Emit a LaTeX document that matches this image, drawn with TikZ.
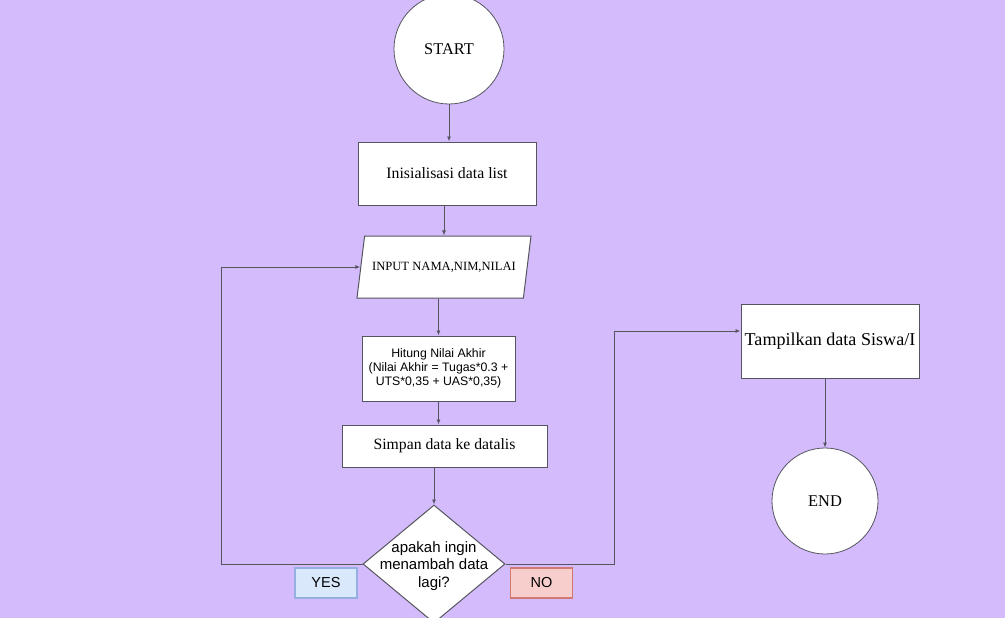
\documentclass[tikz,border=0pt]{standalone}
\usepackage{fontspec}
\setmainfont{Liberation Serif}
\setsansfont{Liberation Sans}
\usepackage{xcolor}
\definecolor{fcbg}{RGB}{212,187,252}
\definecolor{fcline}{RGB}{85,85,95}
\definecolor{fcyesfill}{RGB}{218,232,252}
\definecolor{fcyesline}{RGB}{150,175,225}
\definecolor{fcnofill}{RGB}{248,206,204}
\definecolor{fcnoline}{RGB}{210,120,115}
\usetikzlibrary{arrows.meta, positioning, shapes.geometric}

\tikzset{
  procbox/.style={draw=fcline, fill=white, line width=1pt, inner sep=0pt, align=center},
  termcircle/.style={circle, draw=fcline, fill=white, line width=0.8pt, inner sep=0pt},
  flow/.style={draw=fcline, line width=0.9pt, -{Latex[length=5pt,width=4pt]}},
  answer/.style={line width=1.3pt, inner sep=0pt, minimum width=62pt, minimum height=30pt,
    font=\sffamily\fontsize{14.5}{16}\selectfont}
}

\begin{document}
\begin{tikzpicture}[x=1pt, y=-1pt]
  \useasboundingbox[fill=fcbg] (0,0) rectangle (1005,618);
  \clip (0,0) rectangle (1005,618);

  % Terminals
  \node[termcircle, minimum size=110pt, font=\fontsize{16.4}{18}\selectfont] (start) at (449,49) {START};
  \node[termcircle, minimum size=106pt, font=\fontsize{16.4}{18}\selectfont] (end) at (825,501) {END};

  % Process steps
  \node[procbox, minimum width=178pt, minimum height=63pt, font=\fontsize{15.8}{18}\selectfont] (init) at (447,173.5) {Inisialisasi data list};
  \node[trapezium, trapezium left angle=83, trapezium right angle=97, trapezium stretches body,
    draw=fcline, fill=white, line width=1pt, inner xsep=6.5pt, inner ysep=25.5pt,
    text height=8.5pt, text depth=2.5pt, minimum width=174pt,
    font=\fontsize{12.6}{14}\selectfont] (inp) at (444,267) {INPUT NAMA,NIM,NILAI};
  \node[procbox, minimum width=153pt, minimum height=65pt, font=\sffamily\fontsize{12.3}{14}\selectfont] (hit) at (438.5,368.5)
    {Hitung Nilai Akhir\\(Nilai Akhir = Tugas*0.3 +\\UTS*0,35 + UAS*0,35)};
  \node[procbox, minimum width=205pt, minimum height=42pt, font=\fontsize{15.7}{18}\selectfont] (save) at (444.5,446) {Simpan data ke datalis};
  \node[procbox, minimum width=178pt, minimum height=74pt, font=\fontsize{18.1}{20}\selectfont] (show) at (830,341) {Tampilkan data Siswa/I};

  % Decision
  \node[diamond, draw=fcline, fill=white, line width=1pt, inner sep=0pt, minimum width=142pt, minimum height=118pt] (dec) at (434,564) {};
  \node[font=\sffamily\fontsize{15}{17.5}\selectfont, align=center] (dectext) at (434,566) {apakah ingin\\menambah data\\lagi?};

  % Answer labels
  \node[answer, draw=fcyesline, fill=fcyesfill] (yes) at (326,583) {YES};
  \node[answer, draw=fcnoline, fill=fcnofill] (no) at (541.5,583) {NO};

  % Connectors
  \draw[flow] (start.south) -- (start.south |- init.north);
  \draw[flow] (init.south -| inp.north) -- (inp.north);
  \draw[flow] (inp.south -| hit.north) -- (hit.north);
  \draw[flow] (hit.south) -- (hit.south |- save.north);
  \draw[flow] (save.south -| dec.north) -- (dec.north);
  \draw[flow] (dec.west) -- ++(-141,0) |- (inp.west);
  \draw[flow] (dec.east) -- ++(109,0) |- ([yshift=10pt]show.west);
  \draw[flow] (show.south -| end.north) -- (end.north);
\end{tikzpicture}
\end{document}
